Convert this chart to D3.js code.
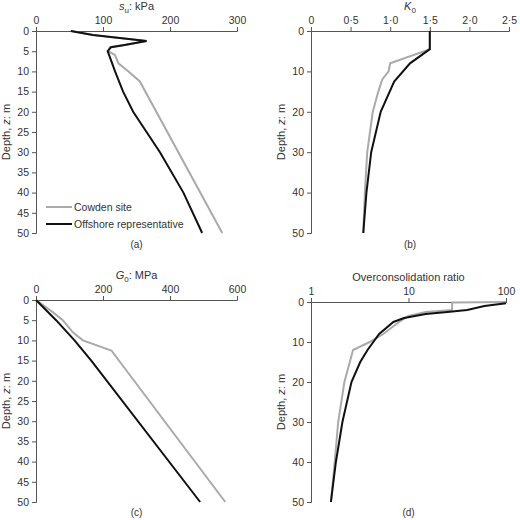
<!DOCTYPE html><html><head><meta charset="utf-8"><script src="https://cdn.jsdelivr.net/npm/d3@7"></script>
<style>body{margin:0;background:#fff}text{font-family:"Liberation Sans",Arial,sans-serif;fill:#333}</style></head><body><svg id="c" width="520" height="520"></svg><script>
// data [depth, value]
const suCowden=[[0,52],[1,85],[2.5,165],[3.5,130],[4,110],[5,108],[6,118],[8,123],[10,138],[12.5,155],[50,278]];
const suOffshore=[[0,52],[1,85],[2.5,165],[3.5,130],[4,112],[5,107],[10,118],[15,130],[20,145],[25,165],[30,185],[40,220],[50,248]];
const k0Cowden=[[0,1.5],[4.5,1.5],[8,1.0],[10,0.98],[12,0.9],[15,0.85],[20,0.78],[30,0.71],[40,0.68],[50,0.66]];
const k0Offshore=[[0,1.5],[4.5,1.5],[8,1.25],[12.5,1.05],[20,0.88],[30,0.76],[40,0.7],[50,0.66]];
const g0Cowden=[[0,0],[3,50],[5,80],[8,110],[10,140],[12.5,225],[50,565]];
const g0Offshore=[[0,0],[5,60],[10,115],[15,165],[50,490]];
const ocrCowden=[[0,100],[0.1,28],[2,28],[2.5,15],[3.5,10],[5,8],[8,5.5],[10,4],[12,2.7],[20,2.2],[30,1.9],[40,1.75],[50,1.6]];
const ocrOffshore=[[0.3,100],[1,60],[2,40],[2.5,25],[3,15],[4,9],[5,7],[8,5],[12,3.8],[15,3.2],[20,2.6],[30,2.1],[40,1.8],[50,1.6]];
const panels=[
 {x0:36,x1:237,y0:31,y1:233,dom:[0,300],ticks:[0,100,200,300],fmt:d=>d,yt:d3.range(0,51,5),title:"s_u: kPa",lab:"(a)",c:suCowden,o:suOffshore,leg:true},
 {x0:311,x1:509,y0:31,y1:233,dom:[0,2.5],ticks:[0,0.5,1,1.5,2,2.5],fmt:d=>d===0?"0":d3.format(".1f")(d).replace(".","·"),yt:d3.range(0,51,10),title:"K_0",lab:"(b)",c:k0Cowden,o:k0Offshore},
 {x0:36,x1:237,y0:300,y1:502,dom:[0,600],ticks:[0,200,400,600],fmt:d=>d,yt:d3.range(0,51,5),title:"G_0: MPa",lab:"(c)",c:g0Cowden,o:g0Offshore},
 {x0:311,x1:506,y0:302,y1:502,dom:[1,100],log:true,ticks:[1,10,100],fmt:d=>d,yt:d3.range(0,51,10),title:"Overconsolidation ratio",lab:"(d)",c:ocrCowden,o:ocrOffshore}
];
const svg=d3.select("#c");
panels.forEach(p=>{
 const x=(p.log?d3.scaleLog():d3.scaleLinear()).domain(p.dom).range([p.x0,p.x1]);
 const y=d3.scaleLinear().domain([0,50]).range([p.y0,p.y1]);
 const g=svg.append("g");
 const ax=g.append("g").attr("transform",`translate(0,${p.y0})`).call(d3.axisTop(x).tickValues(p.ticks).tickFormat(p.fmt).tickSizeOuter(0).tickSize(4));
 const ay=g.append("g").attr("transform",`translate(${p.x0},0)`).call(d3.axisLeft(y).tickValues(p.yt).tickSizeOuter(0).tickSize(4));
 [ax,ay].forEach(a=>{a.selectAll("path,line").attr("stroke","#555");a.selectAll("text").style("font-size","10.5px").attr("fill","#333");});
 const t=g.append("text").attr("x",(p.x0+p.x1)/2).attr("y",p.y0-21).attr("text-anchor","middle").style("font-size","11px");
 if(p.title.includes("_")){const [a,b]=p.title.split("_");const [s,rest]=[b.slice(0,1),b.slice(1)];
  t.append("tspan").attr("font-style","italic").text(a);t.append("tspan").attr("dy",3).style("font-size","8px").text(s);t.append("tspan").attr("dy",-3).text(rest);}
 else t.text(p.title);
 g.append("text").attr("transform",`translate(${p.x0-26},${(p.y0+p.y1)/2}) rotate(-90)`).attr("text-anchor","middle").style("font-size","11px")
  .call(s=>{s.append("tspan").text("Depth, ");s.append("tspan").attr("font-style","italic").text("z");s.append("tspan").text(": m");});
 g.append("text").attr("x",(p.x0+p.x1)/2).attr("y",Math.min(p.y1+15,516)).attr("text-anchor","middle").style("font-size","10px").text(p.lab);
 const line=d3.line().x(d=>x(d[1])).y(d=>y(d[0]));
 g.append("path").attr("d",line(p.c)).attr("fill","none").attr("stroke","#aaa").attr("stroke-width",2);
 g.append("path").attr("d",line(p.o)).attr("fill","none").attr("stroke","#111").attr("stroke-width",2);
 if(p.leg){
  [["Cowden site","#aaa",207],["Offshore representative","#111",224]].forEach(([n,c,yy])=>{
   g.append("line").attr("x1",46).attr("x2",72).attr("y1",yy).attr("y2",yy).attr("stroke",c).attr("stroke-width",2);
   g.append("text").attr("x",74).attr("y",yy+4).style("font-size","10.5px").text(n);});
 }
});
</script></body></html>
